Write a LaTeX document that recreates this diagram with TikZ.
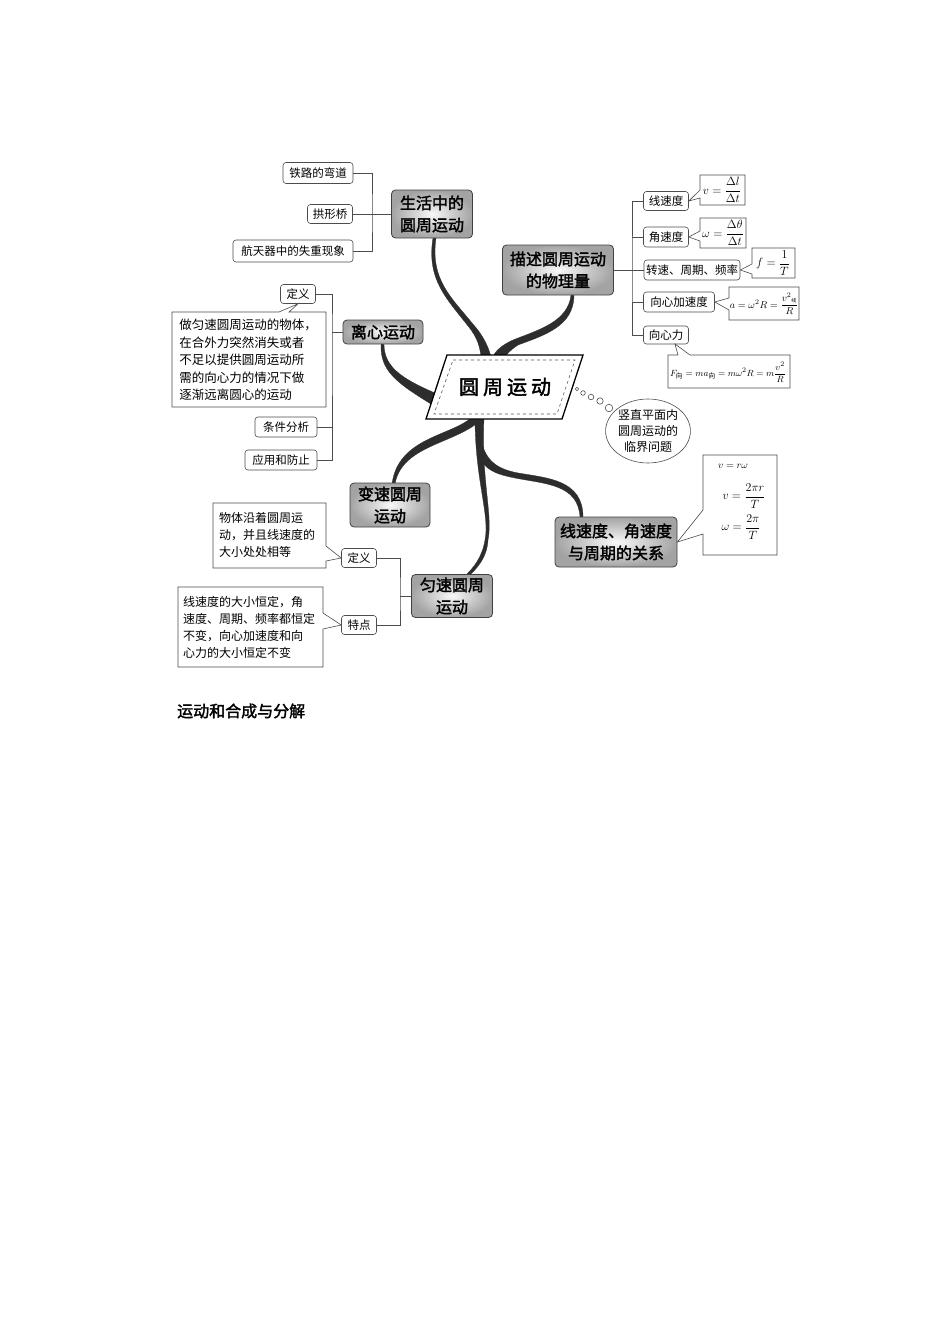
\documentclass[tikz,border=0pt]{standalone}
\usepackage{fontspec}
\usepackage{amsmath}
\newfontfamily\cjk[AutoFakeBold=2]{Noto Sans CJK SC}
\usetikzlibrary{shapes.geometric}
\begin{document}
\begin{tikzpicture}[x=1pt,y=-1pt,
 mainbox/.style={draw=gray!50!black, line width=0.8pt, rounded corners=4pt, inner color=gray!5, outer color=gray!72, font=\cjk\bfseries\fontsize{16}{22}\selectfont, align=center, inner sep=0pt},
 subbox/.style={draw=gray!60!black, line width=0.6pt, rounded corners=3pt, fill=white, font=\cjk\fontsize{11.5}{14}\selectfont, inner sep=0pt},
 conn/.style={draw=gray!60!black, line width=0.7pt},
 callout/.style={draw=gray!60!black, line width=0.6pt, fill=white},
 ctext/.style={font=\cjk\fontsize{12}{17}\selectfont, align=left, inner sep=0pt},
 branch/.style={fill=gray!35!black, draw=gray!35!black, line width=0.3pt},
 fml/.style={font=\fontsize{12}{14}\selectfont, inner sep=0pt}
]
\useasboundingbox (0,0) rectangle (950,1344);

% ---------- branches ----------
\path[branch] (433,238) .. controls (426,280) and (448,300) .. (468,326) .. controls (478,338) and (480,348) .. (481,357) -- (491,357) .. controls (488,345) and (482,334) .. (472,323) .. controls (452,298) and (430,280) .. (436,238) -- cycle;
\path[branch] (571,295) .. controls (568,322) and (538,330) .. (513,340) .. controls (502,345) and (495,351) .. (493,357) -- (505,357) .. controls (510,350) and (515,347) .. (518,345) .. controls (545,335) and (574,326) .. (574,295) -- cycle;
\path[branch] (381,344) .. controls (380,370) and (395,382) .. (431,404) -- (435,393) .. controls (400,378) and (384,366) .. (384,344) -- cycle;
\path[branch] (471,418) .. controls (450,436) and (398,438) .. (392,484) -- (395,484) .. controls (402,444) and (458,444) .. (483,418) -- cycle;
\path[branch] (475,418) .. controls (475,480) and (490,515) .. (485,540) .. controls (482,558) and (473,568) .. (466,575) -- (469,576) .. controls (477,568) and (487,558) .. (488,540) .. controls (493,515) and (481,480) .. (484,418) -- cycle;
\path[branch] (478,455) .. controls (485,470) and (495,474) .. (515,478) .. controls (545,484) and (578,484) .. (580,517) -- (583,517) .. controls (583,480) and (548,478) .. (518,473) .. controls (498,469) and (486,462) .. (481,440) -- cycle;

% ---------- main boxes ----------
\node[mainbox, minimum width=81pt, minimum height=48pt] (life) at (432,214) {生活中的\\圆周运动};
\node[mainbox, minimum width=111pt, minimum height=50pt] (desc) at (558,270) {描述圆周运动\\的物理量};
\node[mainbox, minimum width=80pt, minimum height=24pt] (centri) at (383,332) {离心运动};
\node[mainbox, minimum width=80pt, minimum height=44pt] (var) at (390,505) {变速圆周\\运动};
\node[mainbox, minimum width=122pt, minimum height=50pt] (rel) at (616,542) {线速度、角速度\\与周期的关系};
\node[mainbox, minimum width=81pt, minimum height=43pt] (uni) at (452,596) {匀速圆周\\运动};

% ---------- life ----------
\node[subbox, minimum width=70pt, minimum height=21pt] (rail) at (318,173) {铁路的弯道};
\node[subbox, minimum width=45pt, minimum height=19pt] (arch) at (330,214) {拱形桥};
\node[subbox, minimum width=120pt, minimum height=22pt] (space) at (293,251) {航天器中的失重现象};
\coordinate (lj) at (372,214);
\draw[conn] (rail.east) -| (lj) |- (space.east);
\draw[conn] (arch.east) -- (life.west);

% ---------- description ----------
\node[subbox, minimum width=45pt, minimum height=19pt] (xian) at (666,201) {线速度};
\node[subbox, minimum width=45pt, minimum height=20pt] (jiao) at (666,237) {角速度};
\node[subbox, minimum width=96pt, minimum height=20pt] (zhuan) at (692,270) {转速、周期、频率};
\node[subbox, minimum width=71pt, minimum height=20pt] (jia) at (679,302) {向心加速度};
\node[subbox, minimum width=45pt, minimum height=18pt] (xl) at (666,335) {向心力};
\coordinate (dj) at (632,270);
\draw[conn] (desc.east) -- (zhuan.west);
\draw[conn] (xian.west) -| (dj) |- (xl.west);
\draw[conn] (jiao.west) -- (jiao.west -| dj);
\draw[conn] (jia.west) -- (jia.west -| dj);

\draw[callout] (700,175) -- (745,175) -- (745,205) -- (700,205) -- (700,198) -- (xian.east) -- (700,190) -- cycle;
\node[fml] (f1) at (722,190) {$v=\dfrac{\Delta l}{\Delta t}$};
\draw[callout] (700,218) -- (746,218) -- (746,248) -- (700,248) -- (700,241) -- (jiao.east) -- (700,231) -- cycle;
\node[fml] (f2) at (723,233) {$\omega=\dfrac{\Delta \theta}{\Delta t}$};
\draw[callout] (752,248) -- (795,248) -- (795,278) -- (752,278) -- (752,274) -- (zhuan.east) -- (752,264) -- cycle;
\node[fml] (f3) at (773,263) {$f=\dfrac{1}{T}$};
\draw[callout] (729,287) -- (799,287) -- (799,320) -- (729,320) -- (729,310) -- (jia.east) -- (729,298) -- cycle;
\node[fml, font=\cjk\fontsize{10}{12}\selectfont] (f4) at (764,304) {$a=\omega^2R=\dfrac{{v^2}_{\text{\tiny 线}}}{R}$};
\draw[callout] (668,355) -- (678,355) -- (675,344) -- (690,355) -- (790,355) -- (790,388) -- (668,388) -- cycle;
\node[fml, font=\cjk\fontsize{9.5}{11}\selectfont] (f5) at (728,372) {$F_{\text{向}}=ma_{\text{向}}=m\omega^2R=m\dfrac{v^2}{R}$};

% ---------- centrifugal ----------
\node[subbox, minimum width=35pt, minimum height=19pt] (def1) at (298,294) {定义};
\node[subbox, minimum width=62pt, minimum height=20pt] (cond) at (286,427) {条件分析};
\node[subbox, minimum width=72pt, minimum height=20pt] (app) at (281,460) {应用和防止};
\coordinate (lx) at (332,332);
\draw[conn] (def1.east) -| (lx) |- (app.east);
\draw[conn] (cond.east) -- (cond.east -| lx);
\draw[conn] (lx) -- (centri.west);
\draw[callout] (172,312) -- (279,312) -- (def1.south) -- (289,312) -- (326,312) -- (326,407) -- (172,407) -- cycle;
\node[ctext, font=\cjk\fontsize{12.5}{17.5}\selectfont] (t1) at (248,360) {做匀速圆周运动的物体，\\在合外力突然消失或者\\不足以提供圆周运动所\\需的向心力的情况下做\\逐渐远离圆心的运动};

% ---------- uniform ----------
\node[subbox, minimum width=35pt, minimum height=19pt] (def2) at (359,558) {定义};
\node[subbox, minimum width=35pt, minimum height=19pt] (feat) at (359,625) {特点};
\coordinate (yj) at (400,596);
\draw[conn] (def2.east) -| (yj) |- (feat.east);
\draw[conn] (yj) -- (uni.west);
\draw[callout] (213,503) -- (326,503) -- (326,546) -- (def2.west) -- (326,561) -- (326,568) -- (213,568) -- cycle;
\node[ctext] (t2) at (267,535) {物体沿着圆周运\\动，并且线速度的\\大小处处相等};
\draw[callout] (178,587) -- (323,587) -- (323,613) -- (feat.west) -- (323,629) -- (323,667) -- (178,667) -- cycle;
\node[ctext] (t3) at (249,627) {线速度的大小恒定，角\\速度、周期、频率都恒定\\不变，向心加速度和向\\心力的大小恒定不变};

% ---------- relation ----------
\draw[callout] (703,455) -- (777,455) -- (777,555) -- (703,555) -- (703,534) -- (rel.east) -- (703,510) -- cycle;
\node[fml, font=\fontsize{10}{12}\selectfont] (g1) at (733,466) {$v=r\omega$};
\node[fml] (g2) at (744,496) {$v=\dfrac{2\pi r}{T}$};
\node[fml] (g3) at (741,527) {$\omega=\dfrac{2\pi}{T}$};

% ---------- centre ----------
\draw[line width=1.3pt, fill=white] (447,355) -- (583,355) -- (562,419) -- (426,419) -- cycle;
\draw[gray!70!black, dashed, line width=0.6pt] (453,360) -- (575,360) -- (557,414) -- (434,414) -- cycle;
\node[font=\cjk\bfseries\fontsize{20}{22}\selectfont, inner sep=0pt] (core) at (505,387) {圆\hspace{4pt}周\hspace{4pt}运\hspace{4pt}动};

% ---------- thought bubble ----------
\draw[gray!60!black, line width=0.6pt] (577,389) circle (1.8) (583,393) circle (2.3) (591,397) circle (2.8) (600,401) circle (3.2) (609,408) circle (3.8);
\node[ellipse, draw=gray!60!black, line width=0.6pt, fill=white, minimum width=80pt, minimum height=64pt, inner sep=0pt, font=\cjk\fontsize{12}{16}\selectfont, align=center] (bub) at (648,431) {竖直平面内\\圆周运动的\\临界问题};

% ---------- caption ----------
\node[anchor=west, inner sep=0pt, font=\cjk\bfseries\fontsize{16}{18}\selectfont] (cap) at (177,711) {运动和合成与分解};
\end{tikzpicture}
\end{document}
